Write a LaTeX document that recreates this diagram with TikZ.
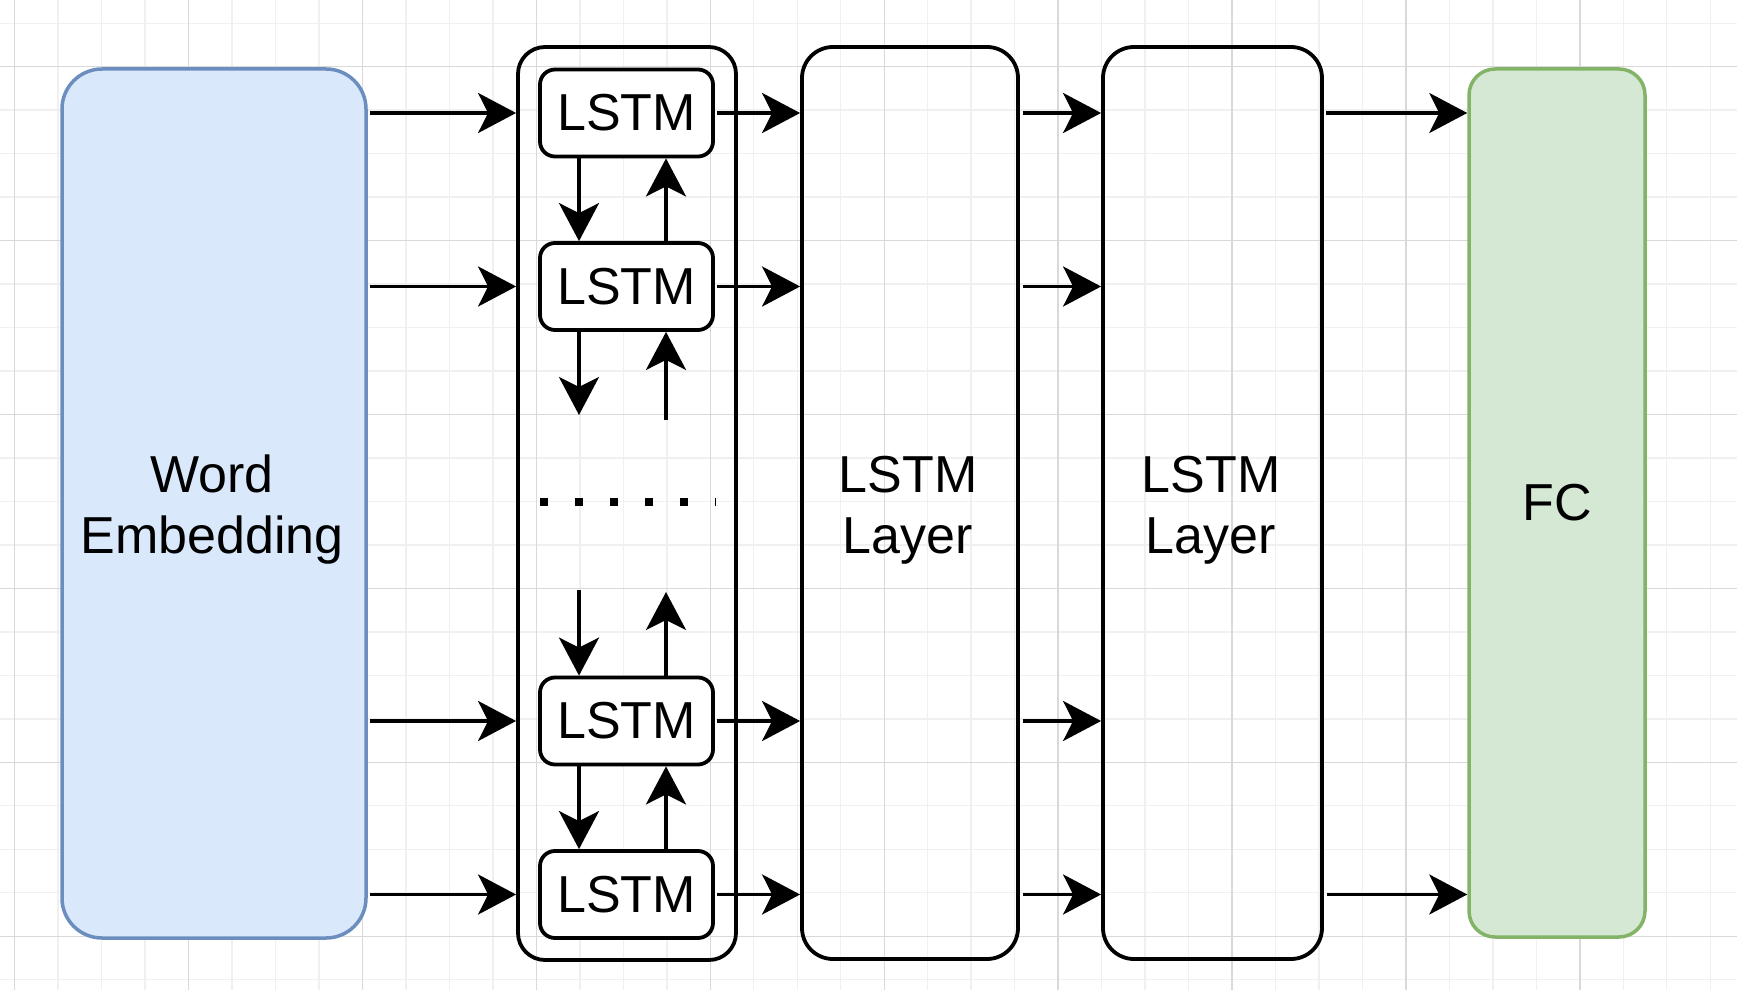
\documentclass[tikz,border=0pt]{standalone}
\usepackage{fontspec}
\setmainfont{Liberation Sans}
\usetikzlibrary{arrows.meta,calc}
\definecolor{weFill}{HTML}{DAE8FC}
\definecolor{weLine}{HTML}{6C8EBF}
\definecolor{fcFill}{HTML}{D5E8D4}
\definecolor{fcLine}{HTML}{82B366}
\definecolor{gridMinor}{HTML}{F0F0F0}
\definecolor{gridMajor}{HTML}{D9D9D9}
\begin{document}
\begin{tikzpicture}[x=0.5pt,y=-0.5pt,
  txt/.style={font=\fontsize{26pt}{30.5pt}\selectfont,text=black},
  bigbox/.style={draw=black,line width=1.9pt,rounded corners=#1,inner sep=0pt},
  cell/.style={draw=black,fill=white,line width=1.9pt,rounded corners=7.5pt,inner sep=0pt,
    minimum width=86.5pt,minimum height=43.5pt,txt},
  lbl/.style={txt,align=center,inner sep=0pt},
  arr/.style={line width=1.8pt,-{Stealth[length=19pt,width=20pt,inset=5pt]}},
  minorgrid/.style={draw=gridMinor,line width=0.7pt},
  majorgrid/.style={draw=gridMajor,line width=0.7pt}]
\useasboundingbox (0,0) rectangle (1737,990);
\fill[white] (0,0) rectangle (1737,990);
% background grid
\begin{scope}
\clip (0,0) rectangle (1737,990);
\foreach \i in {0,...,40}{
  \pgfmathsetmacro\gx{-28.775+\i*43.475}
  \draw[minorgrid] (\gx,0) -- (\gx,990);}
\foreach \i in {0,...,23}{
  \pgfmathsetmacro\gy{-20.25+\i*43.475}
  \draw[minorgrid] (0,\gy) -- (1737,\gy);}
\foreach \i in {0,...,9}{
  \pgfmathsetmacro\gx{14.7+\i*173.9}
  \draw[majorgrid] (\gx,0) -- (\gx,990);}
\foreach \i in {0,...,5}{
  \pgfmathsetmacro\gy{66.7+\i*173.9}
  \draw[majorgrid] (0,\gy) -- (1737,\gy);}
\end{scope}

% boxes
\node[bigbox=20pt,draw=weLine,fill=weFill,line width=1.75pt,minimum width=152pt,minimum height=434.5pt] (we) at (214,503.5) {};
\node[lbl,anchor=base] (welbl) at (212,553) {Word\\Embedding};

\node[bigbox=13.5pt,minimum width=109pt,minimum height=456.5pt] (outer) at (627,503.5) {};

\node[cell] (l1) at (626.5,113) {LSTM};
\node[cell] (l2) at (626.5,286.5) {LSTM};
\node[cell] (l3) at (626.5,721) {LSTM};
\node[cell] (l4) at (626.5,894.5) {LSTM};

\node[bigbox=15.5pt,minimum width=108pt,minimum height=456pt] (lay1) at (910,503) {};
\node[lbl,anchor=base] (lay1lbl) at (908,553) {LSTM\\Layer};
\node[bigbox=15.5pt,minimum width=109.5pt,minimum height=456pt] (lay2) at (1212.5,503) {};
\node[lbl,anchor=base] (lay2lbl) at (1211,553) {LSTM\\Layer};

\node[bigbox=13pt,draw=fcLine,fill=fcFill,line width=1.75pt,minimum width=88pt,minimum height=434pt,txt] (fc) at (1557,503) {FC};

% word embedding -> LSTM cells -> layers
\foreach \c in {l1,l2,l3,l4}{
  \draw[arr,shorten <=1pt] (we.east |- \c) -- (outer.west |- \c);
  \draw[arr,shorten <=1pt] (\c.east) -- (lay1.west |- \c);
  \draw[arr,shorten <=1.5pt] (lay1.east |- \c) -- (lay2.west |- \c);
}
\draw[arr,shorten <=1pt] (lay2.east |- l1) -- (fc.west |- l1);
\draw[arr,shorten <=1.5pt] (lay2.east |- l4) -- (fc.west |- l4);

% recurrent connections
\draw[arr] ($(l1.south)+(-47.5,0)$) -- ($(l2.north)+(-47.5,0)$);
\draw[arr] ($(l2.north)+(39.5,0)$) -- ($(l1.south)+(39.5,0)$);
\draw[arr] ($(l3.south)+(-47.5,0)$) -- ($(l4.north)+(-47.5,0)$);
\draw[arr] ($(l4.north)+(39.5,0)$) -- ($(l3.south)+(39.5,0)$);

\coordinate (e2d) at (579,415);
\coordinate (e2u) at (666,420);
\coordinate (e3d) at (579,590);
\coordinate (e3u) at (666,592);
\draw[arr] ($(l2.south)+(-47.5,0)$) -- (e2d);
\draw[arr] (e2u) -- ($(l2.south)+(39.5,0)$);
\draw[arr] (e3d) -- ($(l3.north)+(-47.5,0)$);
\draw[arr] ($(l3.north)+(39.5,0)$) -- (e3u);

% ellipsis
\coordinate (dotsA) at (540,502);
\coordinate (dotsB) at (715.5,502);
\draw[line width=4pt,dash pattern=on 4pt off 13.5pt] (dotsA) -- (dotsB);
\end{tikzpicture}
\end{document}
